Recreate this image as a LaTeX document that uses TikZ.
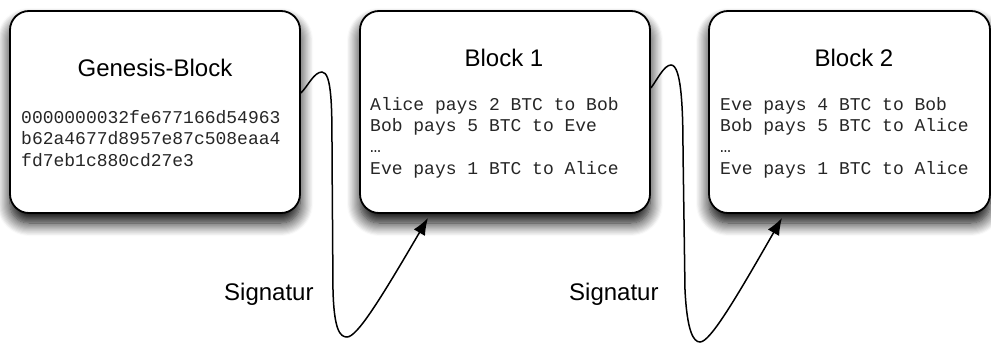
\documentclass[tikz,border=0pt]{standalone}
\usepackage{fontspec}
\setmainfont{Liberation Sans}
\newfontfamily\monofam{Liberation Mono}
\usetikzlibrary{arrows.meta,calc,shadows.blur}

\begin{document}
\begin{tikzpicture}[x=1pt,y=-1pt,
  blockbox/.style={draw=black, line width=1.8pt, rounded corners=19pt, fill=white,
    minimum height=202pt, inner sep=0pt,
    blur shadow={shadow xshift=0pt, shadow yshift=-10pt, shadow blur radius=13pt, shadow opacity=100, shadow blur steps=12}},
  headtext/.style={font=\fontsize{24}{28}\selectfont, anchor=base, inner sep=0pt},
  bodytext/.style={font=\monofam\fontsize{18}{21.3}\selectfont, align=left, anchor=base west, inner sep=0pt, text=black!85},
  sigtext/.style={font=\fontsize{24}{28}\selectfont, anchor=base west, inner sep=0pt},
  conn/.style={draw=black, line width=1.5pt, -{Latex[length=17pt,width=13pt]}}
]
\useasboundingbox (0,0) rectangle (991,343);

\node[blockbox, minimum width=290pt] (g)  at (155,112) {};
\node[blockbox, minimum width=290pt] (b1) at (505,112) {};
\node[blockbox, minimum width=281pt] (b2) at (849.5,112) {};

\node[headtext] (gh)  at (155,76) {Genesis-Block};
\node[headtext] (b1h) at (504,66) {Block 1};
\node[headtext] (b2h) at (854,66) {Block 2};

% base anchor of a multi-line node = baseline of its last line
\node[bodytext] (gt) at (21,166) {0000000032fe677166d54963\\b62a4677d8957e87c508eaa4\\fd7eb1c880cd27e3};
\node[bodytext] (b1t) at (370,174) {Alice pays 2 BTC to Bob\\Bob pays 5 BTC to Eve\\…\\Eve pays 1 BTC to Alice};
\node[bodytext] (b2t) at (720,174) {Eve pays 4 BTC to Bob\\Bob pays 5 BTC to Alice\\…\\Eve pays 1 BTC to Alice};

\node[sigtext] (s1) at (224,300) {Signatur};
\node[sigtext] (s2) at (569,300) {Signatur};

\draw[conn] ([yshift=19pt]g.east) .. controls (308,86) and (314,72) .. (322,72)
  .. controls (332,72) and (332,110) .. (332,150) -- (333,290)
  .. controls (334,330) and (340,337) .. (347,337)
  .. controls (357,337) and (380,300) .. ([xshift=-77pt,yshift=-4pt]b1.south);

\draw[conn] ([yshift=24pt]b1.east) .. controls (657,80) and (664,65) .. (671,65)
  .. controls (681,65) and (683,105) .. (683,150) -- (685,290)
  .. controls (687,330) and (693,342) .. (700,342)
  .. controls (710,342) and (735,300) .. ([xshift=-67.5pt,yshift=-4pt]b2.south);
\end{tikzpicture}
\end{document}
